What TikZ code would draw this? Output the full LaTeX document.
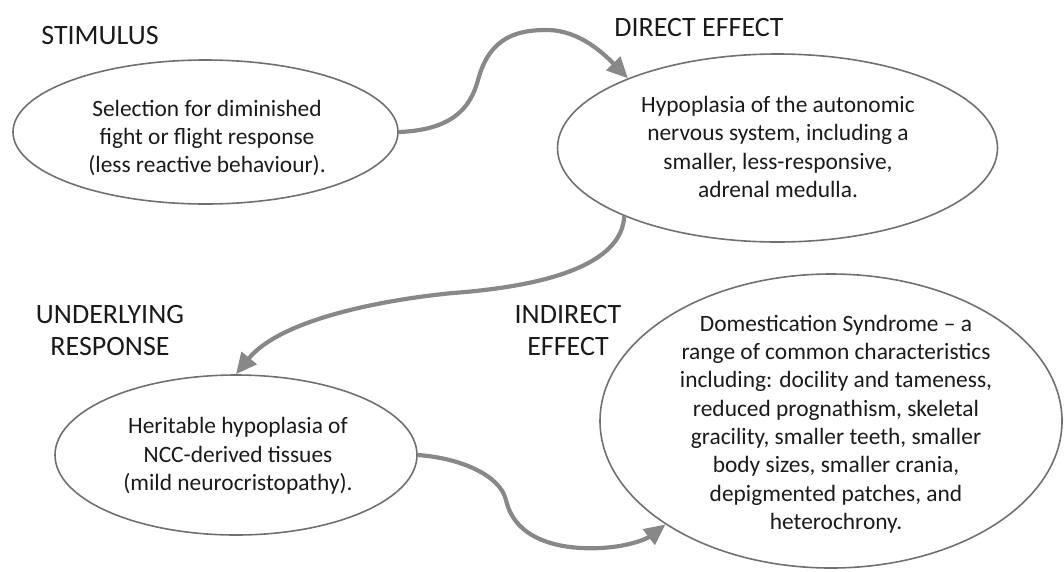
\documentclass[tikz,border=0pt]{standalone}
\usepackage{fontspec}
\setmainfont{Carlito}
\usetikzlibrary{shapes.geometric,arrows.meta}
\definecolor{edgegray}{HTML}{707070}
\definecolor{arrowgray}{HTML}{888888}
\definecolor{txt}{HTML}{1A1A1A}
\tikzset{
  oval/.style={ellipse, draw=edgegray, line width=1.6pt, inner sep=0pt},
  body/.style={align=center, text=txt, inner sep=0pt, font=\fontsize{23.4}{28.3}\selectfont},
  heading/.style={align=center, text=txt, inner sep=0pt, font=\fontsize{28}{32}\selectfont},
  flow/.style={draw=arrowgray, line width=4.2pt, -{Triangle[length=21pt,width=19pt]}, arrowgray}
}
\begin{document}
\begin{tikzpicture}[x=1pt,y=-1pt]
\useasboundingbox (0,0) rectangle (1064,571);
% ellipses
\node[oval, minimum width=385pt, minimum height=144pt] (e1) at (205.5,132) {};
\node[oval, minimum width=440pt, minimum height=188pt] (e2) at (777.5,148) {};
\node[oval, minimum width=362pt, minimum height=160pt] (e3) at (236,455) {};
\node[oval, minimum width=462pt, minimum height=294pt] (e4) at (831,421) {};
% texts
\node[body] (t1) at (207,138) {Selection for diminished\\fight or flight response\\(less reactive behaviour).};
\node[body] (t2) at (778,147) {Hypoplasia of the autonomic\\nervous system, including a\\smaller, less-responsive,\\adrenal medulla.};
\node[body] (t3) at (238,456) {Heritable hypoplasia of\\NCC-derived tissues\\(mild neurocristopathy).};
\node[body] (t4) at (836,424) {Domestication Syndrome -- a\\range of common characteristics\\including: docility and tameness,\\reduced prognathism, skeletal\\gracility, smaller teeth, smaller\\body sizes, smaller crania,\\depigmented patches, and\\heterochrony.};
% headings
\node[heading] (h1) at (100,36) {STIMULUS};
\node[heading] (h2) at (699,28) {DIRECT EFFECT};
\node[heading] (h3) at (110,331) {UNDERLYING\\RESPONSE};
\node[heading] (h4) at (568,331) {INDIRECT\\EFFECT};
% connectors
\draw[flow] (e1.east) .. controls (450,130) and (470,110) .. (478,80)
  .. controls (490,35) and (520,30) .. (547,30)
  .. controls (580,30) and (605,55) .. (e2.155.6);
\draw[flow] (e2.204.4) .. controls (622,260) and (560,285) .. (453,293)
  .. controls (380,300) and (280,320) .. (e3.north);
\draw[flow] (e3.east) .. controls (460,458) and (500,475) .. (506,500)
  .. controls (515,540) and (560,550) .. (600,548)
  .. controls (625,547) and (645,540) .. (e4.212);
\end{tikzpicture}
\end{document}
